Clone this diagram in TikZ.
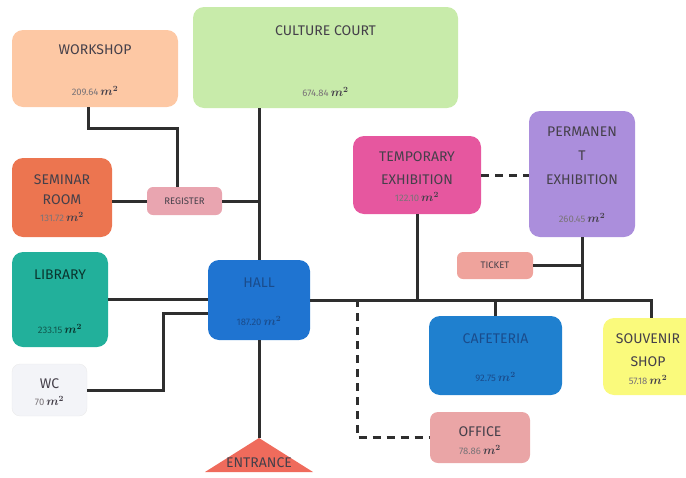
\documentclass[tikz,border=0pt]{standalone}
\usepackage{fontspec}
\usepackage{amsmath}
\newfontfamily\planfont{Fira Sans}
\definecolor{wireink}{HTML}{2E2E2E}
\definecolor{labelink}{HTML}{45404A}
\definecolor{numink}{HTML}{7A7478}
\definecolor{blueink}{HTML}{1A4C8C}
\definecolor{workfill}{HTML}{FDC8A4}
\definecolor{courtfill}{HTML}{C8EBAA}
\definecolor{semfill}{HTML}{EC7550}
\definecolor{regfill}{HTML}{E9A5B0}
\definecolor{libfill}{HTML}{22B09B}
\definecolor{hallfill}{HTML}{1F74D1}
\definecolor{wcfill}{HTML}{F3F4F8}
\definecolor{entrfill}{HTML}{EF6B5C}
\definecolor{tempfill}{HTML}{E6579F}
\definecolor{permfill}{HTML}{AB8EDC}
\definecolor{tickfill}{HTML}{EFA39C}
\definecolor{cafefill}{HTML}{1F80CF}
\definecolor{souvfill}{HTML}{FAFA7C}
\definecolor{offfill}{HTML}{EAA5A6}
\newcommand{\area}[2][numink]{{\planfont\fontsize{9.5}{10}\selectfont\color{#1}#2}\,$\boldsymbol{m^2}$}

\begin{document}
\begin{tikzpicture}[x=1pt,y=-1pt,line join=miter,
  room/.style={rounded corners=11pt,inner sep=0pt},
  wire/.style={line width=3pt,draw=wireink},
  dashwire/.style={line width=3pt,draw=wireink,dash pattern=on 8pt off 6pt},
  title/.style={font=\planfont\fontsize{14}{16}\selectfont,text=labelink,align=center},
  tag/.style={font=\planfont\fontsize{9.5}{10}\selectfont,text=labelink},
  sqm/.style={font=\fontsize{12}{14}\selectfont,text=labelink}]
\useasboundingbox (0,0) rectangle (686,477);
\node[room,fill=workfill,minimum width=166pt,minimum height=77pt] (work) at (95,68.5) {};
\node[room,fill=courtfill,minimum width=265pt,minimum height=101pt] (court) at (325.5,57.5) {};
\node[room,fill=semfill,minimum width=100pt,minimum height=79pt] (sem) at (62,197.5) {};
\node[room,rounded corners=6pt,fill=regfill,minimum width=75pt,minimum height=28pt] (reg) at (184.5,201) {};
\node[room,fill=libfill,minimum width=96pt,minimum height=95pt] (lib) at (60,299.5) {};
\node[room,fill=hallfill,minimum width=102pt,minimum height=80pt] (hall) at (259,300) {};
\node[room,rounded corners=8pt,fill=wcfill,draw=black!8,minimum width=75pt,minimum height=52pt] (wc) at (49.5,390) {};
\node[room,fill=tempfill,minimum width=128pt,minimum height=78pt] (temp) at (417,175) {};
\node[room,fill=permfill,minimum width=106pt,minimum height=126pt] (perm) at (582,174) {};
\node[room,rounded corners=6pt,fill=tickfill,minimum width=76pt,minimum height=27pt] (tick) at (495,265.5) {};
\node[room,fill=cafefill,minimum width=133pt,minimum height=79pt] (cafe) at (495.5,355.5) {};
\node[room,fill=souvfill,minimum width=96pt,minimum height=77pt] (souv) at (651,356.5) {};
\node[room,rounded corners=8pt,fill=offfill,minimum width=100pt,minimum height=51pt] (off) at (480,437.5) {};
\coordinate (entrtop) at (259,438);
\coordinate (entrleft) at (205,472);
\coordinate (entrright) at (313,472);
\coordinate (wcbend) at (163,350);
\coordinate (offtap) at (357,299);
\fill[entrfill] (entrleft) -- (entrtop) -- (entrright) -- cycle;
\draw[wire] (hall.north) -- (hall.north |- court.south);
\draw[wire] (hall.south) -- (entrtop);
\draw[wire] ([xshift=-7pt]work.south) -- ++(0,21) -| ([xshift=-7pt]reg.north);
\draw[wire] (sem.east |- reg.west) -- (reg.west);
\draw[wire] (reg.east) -- (reg.east -| hall.north);
\draw[wire] (lib.east) -- (lib.east -| hall.west);
\draw[wire] ([yshift=-13pt]hall.west) -| (wcbend) |- (wc.east);
\draw[wire] (hall.east) -- (hall.east -| souv.north) -- (souv.north);
\draw[wire] (temp.south) -- (temp.south |- hall.east);
\draw[wire] (perm.south) -- (perm.south |- hall.east);
\draw[wire] (tick.east) -- (tick.east -| perm.south);
\draw[wire] (cafe.north) -- (cafe.north |- hall.east);
\draw[dashwire] (temp.east) -- (temp.east -| perm.west);
\draw[dashwire] (offtap) |- (off.west);
\node[title] (work-t) at (95,50) {WORKSHOP};
\node[sqm] (work-a) at (95,91) {\area{209.64}};
\node[title] (court-t) at (325.5,31) {CULTURE COURT};
\node[sqm] (court-a) at (325.5,92) {\area{674.84}};
\node[title,font=\planfont\fontsize{14}{20}\selectfont] (sem-t) at (62,190) {SEMINAR\\ROOM};
\node[sqm] (sem-a) at (62,217) {\area{131.72}};
\node[tag] (reg-t) at (184.5,201) {REGISTER};
\node[title,text=black!70!libfill] (lib-t) at (60,275) {LIBRARY};
\node[sqm,text=black!70!libfill] (lib-a) at (60,329) {\area[black!50!libfill]{233.15}};
\node[title,text=blueink] (hall-t) at (259,283) {HALL};
\node[sqm,text=blueink] (hall-a) at (259,321) {\area[blueink]{187.20}};
\node[title] (wc-t) at (49.5,384) {WC};
\node[sqm] (wc-a) at (49.5,401) {\area{70}};
\node[title,font=\planfont\fontsize{14}{23}\selectfont] (temp-t) at (417,168.5) {TEMPORARY\\EXHIBITION};
\node[sqm] (temp-a) at (417,197) {\area{122.10}};
\node[title,font=\planfont\fontsize{14}{24}\selectfont] (perm-t) at (582,156) {PERMANEN\\T\\EXHIBITION};
\node[sqm] (perm-a) at (582,218) {\area{260.45}};
\node[tag] (tick-t) at (495,265.5) {TICKET};
\node[title,text=blueink] (cafe-t) at (495.5,339) {CAFETERIA};
\node[sqm,text=blueink] (cafe-a) at (495.5,377) {\area[blueink]{92.75}};
\node[title,font=\planfont\fontsize{14}{23}\selectfont] (souv-t) at (648,350.5) {SOUVENIR\\SHOP};
\node[sqm] (souv-a) at (648,380) {\area{57.18}};
\node[title] (off-t) at (480,432) {OFFICE};
\node[sqm] (off-a) at (480,450) {\area{78.86}};
\node[title] (entr-t) at (259,463) {ENTRANCE};
\end{tikzpicture}
\end{document}
